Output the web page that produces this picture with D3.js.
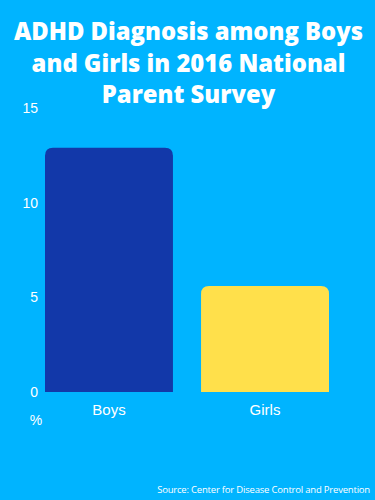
<!DOCTYPE html>
<html>
<head>
<meta charset="utf-8">
<script src="https://cdn.jsdelivr.net/npm/d3@7"></script>
<style>
  html, body { margin: 0; padding: 0; background: #00b4ff; }
  svg { display: block; }
</style>
</head>
<body>
<div id="chart"></div>
<script>

// ADHD diagnosis among boys and girls, 2016 National Parent Survey
var categories = ["Boys", "Girls"];
var values = [12.9, 5.6];
var yTicks = [0, 5, 10, 15];
var titleLines = ["ADHD Diagnosis among Boys", "and Girls in 2016 National", "Parent Survey"];
var unitLabel = "%";
var sourceText = "Source: Center for Disease Control and Prevention";
var barColors = ["#1238a9", "#ffe04b"];

var width = 375, height = 500;

var svg = d3.select("#chart")
  .append("svg")
  .attr("width", width)
  .attr("height", height);

svg.append("rect")
  .attr("width", width)
  .attr("height", height)
  .attr("fill", "#00b4ff");

// title
svg.append("g")
  .selectAll("text")
  .data(titleLines).enter()
  .append("text")
  .attr("x", width / 2 + 1)
  .attr("y", function (d, i) { return 40 + i * 31.5; })
  .attr("text-anchor", "middle")
  .attr("fill", "#fff")
  .style("font-family", "'Open Sans', sans-serif")
  .style("font-weight", 800)
  .style("font-size", "23.8px")
  .text(function (d) { return d; });

var xScale = d3.scaleBand()
  .domain(categories)
  .range([45, 329])
  .paddingInner(0.18)
  .paddingOuter(0);

var yScale = d3.scaleLinear()
  .domain([0, 15])
  .range([392, 108]);

function topRounded(x, y, w, h, r) {
  return "M" + x + "," + (y + h) +
    "V" + (y + r) +
    "Q" + x + "," + y + " " + (x + r) + "," + y +
    "H" + (x + w - r) +
    "Q" + (x + w) + "," + y + " " + (x + w) + "," + (y + r) +
    "V" + (y + h) + "Z";
}

svg.selectAll(".bar")
  .data(values).enter()
  .append("path")
  .attr("class", "bar")
  .attr("fill", function (d, i) { return barColors[i]; })
  .attr("d", function (d, i) {
    var x = xScale(categories[i]);
    var y = yScale(d);
    return topRounded(x, y, xScale.bandwidth(), yScale(0) - y, 8);
  });

// y axis labels only
var yAxis = d3.axisLeft(yScale).tickValues(yTicks).tickSize(0).tickPadding(0);
var yG = svg.append("g")
  .attr("transform", "translate(38,0)")
  .call(yAxis);
yG.select(".domain").remove();
yG.selectAll("text")
  .attr("fill", "#fff")
  .style("font-family", "'Liberation Sans', Arial, sans-serif")
  .style("font-size", "14px");

var xAxis = d3.axisBottom(xScale).tickSize(0).tickPadding(12);
var xG = svg.append("g")
  .attr("transform", "translate(0," + yScale(0) + ")")
  .call(xAxis);
xG.select(".domain").remove();
xG.selectAll("text")
  .attr("fill", "#fff")
  .style("font-family", "'Liberation Sans', Arial, sans-serif")
  .style("font-size", "15px");

svg.append("text")
  .attr("x", 36)
  .attr("y", 425)
  .attr("text-anchor", "middle")
  .attr("fill", "#fff")
  .style("font-family", "'Liberation Sans', Arial, sans-serif")
  .style("font-size", "14px")
  .text(unitLabel);

svg.append("text")
  .attr("x", 370)
  .attr("y", 493)
  .attr("text-anchor", "end")
  .attr("fill", "#fff")
  .style("font-family", "'Open Sans', sans-serif")
  .style("font-size", "9.5px")
  .style("letter-spacing", "-0.2px")
  .text(sourceText);

</script>
</body>
</html>
